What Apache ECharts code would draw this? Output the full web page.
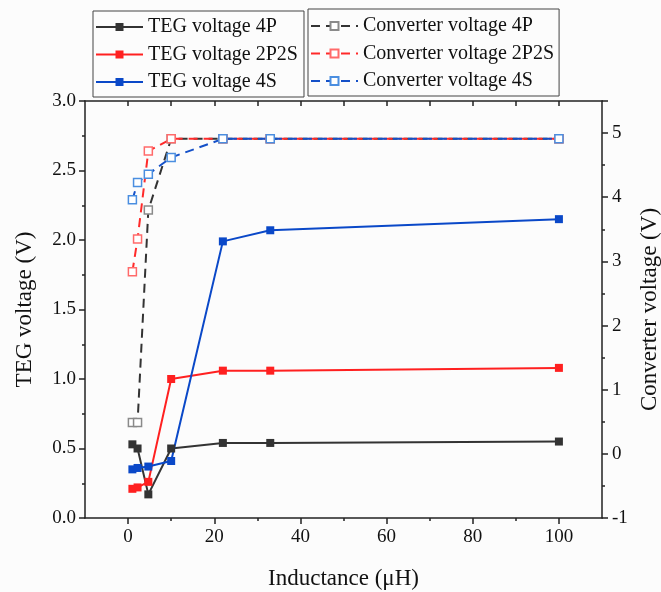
<!DOCTYPE html>
<html>
<head>
<meta charset="utf-8">
<script src="https://cdn.jsdelivr.net/npm/echarts@6/dist/echarts.min.js"></script>
<style>
html,body{margin:0;padding:0;background:#fcfcfc;}
#c{width:661px;height:592px;}
</style>
</head>
<body>
<div id="c"></div>
<script>
// Data
const inductance = [1, 2.2, 4.7, 10, 22, 33, 100];
const teg4P    = [0.53, 0.50, 0.17, 0.50, 0.54, 0.54, 0.55];
const teg2P2S  = [0.21, 0.22, 0.26, 1.00, 1.06, 1.06, 1.08];
const teg4S    = [0.35, 0.36, 0.37, 0.41, 1.99, 2.07, 2.15];
const conv4P   = [0.49, 0.49, 3.80, 4.91, 4.91, 4.91, 4.91];
const conv2P2S = [2.84, 3.35, 4.72, 4.91, 4.91, 4.91, 4.91];
const conv4S   = [3.96, 4.23, 4.36, 4.62, 4.91, 4.91, 4.91];
const xMajorTicks = [0, 20, 40, 60, 80, 100];
const xMinorTicks = [10, 30, 50, 70, 90];
const xTopTicks = [0, 10, 20, 30, 40, 50, 60, 70, 80, 90, 100];

const FONT = 'Liberation Serif';
const pairs = ys => inductance.map((x, i) => [x, ys[i]]);

function teg(name, data, color) {
  return {
    name, type: 'line', data: pairs(data), xAxisIndex: 0, yAxisIndex: 0,
    symbol: 'rect', symbolSize: 8,
    lineStyle: {color, width: 2},
    itemStyle: {color, borderColor: color, borderWidth: 0},
    z: 3
  };
}
function conv(name, data, lineColor, markColor) {
  return {
    name, type: 'line', data: pairs(data), xAxisIndex: 0, yAxisIndex: 1,
    symbol: 'rect', symbolSize: 8,
    lineStyle: {color: lineColor, width: 2, type: [9, 6]},
    itemStyle: {color: '#ffffff', borderColor: markColor, borderWidth: 1.5},
    z: 2
  };
}

const axisLine = {show: true, onZero: false, lineStyle: {color: '#222', width: 1.5}};
const chart = echarts.init(document.getElementById('c'));
chart.setOption({
  backgroundColor: '#fcfcfc',
  animation: false,
  textStyle: {fontFamily: FONT, color: '#111'},
  grid: {left: 85, right: 59, top: 101, bottom: 74, containLabel: false, outerBoundsMode: 'none'},
  legend: [
    {
      data: ['TEG voltage 4P', 'TEG voltage 2P2S', 'TEG voltage 4S'],
      orient: 'vertical', left: 93, top: 11,
      itemWidth: 47, itemHeight: 10, itemGap: 7.5,
      padding: [6, 6, 5, 2],
      borderColor: '#444', borderWidth: 1, backgroundColor: '#fcfcfc',
      textStyle: {fontFamily: FONT, fontSize: 20, color: '#111'}
    },
    {
      data: ['Converter voltage 4P', 'Converter voltage 2P2S', 'Converter voltage 4S'],
      orient: 'vertical', left: 308, top: 9,
      itemWidth: 47, itemHeight: 10, itemGap: 7.5,
      padding: [7, 5, 5, 2],
      borderColor: '#444', borderWidth: 1, backgroundColor: '#fcfcfc',
      textStyle: {fontFamily: FONT, fontSize: 20, color: '#111'}
    }
  ],
  xAxis: [
    {
      type: 'value', min: -10, max: 110, position: 'bottom',
      name: 'Inductance (\u03bcH)', nameLocation: 'middle', nameGap: 49,
      nameTextStyle: {fontFamily: FONT, fontSize: 23, color: '#111'},
      axisLine,
      axisTick: {show: true, inside: false, length: 6, customValues: xMajorTicks, lineStyle: {color: '#222', width: 1.5}},
      axisLabel: {customValues: xMajorTicks, fontFamily: FONT, fontSize: 19, color: '#111', margin: 10},
      splitLine: {show: false}
    },
    {
      type: 'value', min: -10, max: 110, position: 'bottom', gridIndex: 0,
      axisLine: {show: false, onZero: false},
      axisTick: {show: true, inside: false, length: 3, customValues: xMinorTicks, lineStyle: {color: '#222', width: 1.5}},
      axisLabel: {show: false},
      splitLine: {show: false}
    },
    {
      type: 'value', min: -10, max: 110, position: 'top',
      axisLine,
      axisTick: {show: true, inside: true, length: 5, customValues: xTopTicks, lineStyle: {color: '#222', width: 1.5}},
      axisLabel: {show: false},
      splitLine: {show: false}
    }
  ],
  yAxis: [
    {
      type: 'value', min: 0, max: 3, interval: 0.5, position: 'left',
      name: 'TEG voltage (V)', nameLocation: 'middle', nameGap: 49,
      nameTextStyle: {fontFamily: FONT, fontSize: 23, color: '#111'},
      axisLine,
      axisTick: {show: true, inside: false, length: 6, lineStyle: {color: '#222', width: 1.5}},
      minorTick: {show: true, splitNumber: 2, length: 3, lineStyle: {color: '#222', width: 1.5}},
      axisLabel: {fontFamily: FONT, fontSize: 19, color: '#111', margin: 9, formatter: v => v.toFixed(1)},
      splitLine: {show: false}
    },
    {
      type: 'value', min: -1, max: 5.5, interval: 1, position: 'right',
      name: 'Converter voltage (V)', nameLocation: 'middle', nameGap: 32,
      nameTextStyle: {fontFamily: FONT, fontSize: 23, color: '#111'},
      axisLine,
      axisTick: {show: true, inside: false, length: 6, lineStyle: {color: '#222', width: 1.5}},
      minorTick: {show: true, splitNumber: 2, length: 3, lineStyle: {color: '#222', width: 1.5}},
      axisLabel: {fontFamily: FONT, fontSize: 19, color: '#111', margin: 10, showMaxLabel: false,
        formatter: v => (v === 5.5 ? '' : String(v))},
      splitLine: {show: false}
    }
  ],
  series: [
    conv('Converter voltage 4P', conv4P, '#333333', '#8a8a8a'),
    conv('Converter voltage 2P2S', conv2P2S, '#ff2a2a', '#ff6a6a'),
    conv('Converter voltage 4S', conv4S, '#1450c8', '#4a8ee0'),
    teg('TEG voltage 4P', teg4P, '#333333'),
    teg('TEG voltage 2P2S', teg2P2S, '#ff2020'),
    teg('TEG voltage 4S', teg4S, '#0a48c8')
  ]
});
</script>
</body>
</html>
